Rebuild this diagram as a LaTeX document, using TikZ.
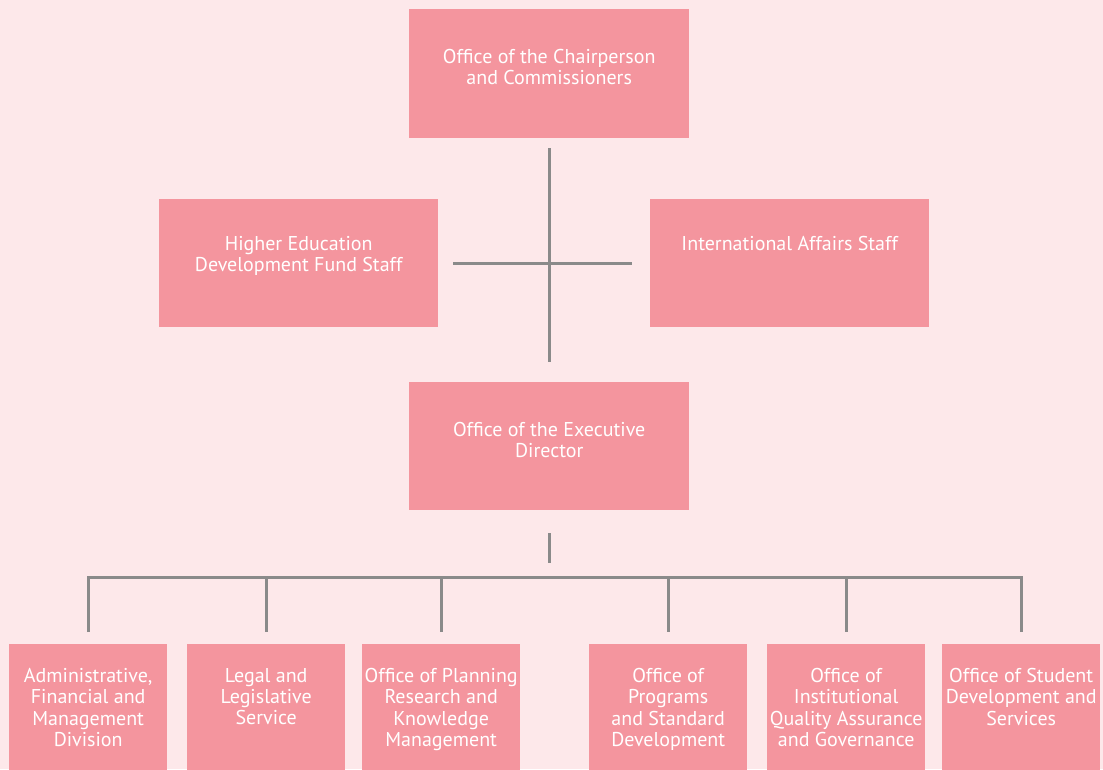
\documentclass[tikz,border=0pt]{standalone}
\usepackage{fontspec}
\setmainfont{PT Sans}
\definecolor{bgpink}{HTML}{FDE8EA}
\definecolor{boxpink}{HTML}{F4959E}
\definecolor{linegray}{HTML}{8A8A8A}
\tikzset{
  box/.style={fill=boxpink, draw=none, inner sep=0pt, anchor=north west},
  lbl/.style={text=white, font=\fontsize{20}{21.3}\selectfont, align=center, inner sep=0pt, anchor=north},
  conn/.style={draw=linegray, line width=3pt},
}
\begin{document}
\begin{tikzpicture}[x=1pt,y=-1pt]
\useasboundingbox (0,0) rectangle (1103,769);
\fill[bgpink] (0,0) rectangle (1103,769);
\begin{scope}
\clip (0,0) rectangle (1103,769);
% top
\node[box, minimum width=280pt, minimum height=129pt] (top) at (409,9) {};
\node[lbl] (topl) at ([yshift=-40pt]top.north) {Office of the Chairperson\\and Commissioners};
% middle row
\node[box, minimum width=279pt, minimum height=128pt] (hedf) at (159,199) {};
\node[lbl] (hedfl) at ([yshift=-37pt]hedf.north) {Higher Education\\Development Fund Staff};
\node[box, minimum width=279pt, minimum height=128pt] (ias) at (650,199) {};
\node[lbl] (iasl) at ([yshift=-37pt]ias.north) {International Affairs Staff};
% exec
\node[box, minimum width=280pt, minimum height=128pt] (exec) at (409,382) {};
\node[lbl] (execl) at ([yshift=-40pt]exec.north) {Office of the Executive\\Director};
% bottom row
\foreach \n/\x/\t in {
  c1/9/{Administrative,\\Financial and\\Management\\Division},
  c2/187/{Legal and\\Legislative\\Service},
  c3/362/{Office of Planning\\Research and\\Knowledge\\Management},
  c4/589/{Office of\\Programs\\and Standard\\Development},
  c5/767/{Office of\\Institutional\\Quality Assurance\\and Governance},
  c6/942/{Office of Student\\Development and\\Services}}{
  \node[box, minimum width=158pt, minimum height=130pt] (\n) at (\x,644) {};
  \node[lbl] (\n l) at ([yshift=-24pt]\n.north) {\t};
}
\end{scope}
% connectors
\draw[conn, shorten <=10pt, shorten >=20pt] (top.south) -- (exec.north);
\draw[conn, shorten <=15pt, shorten >=18pt] (hedf.east) -- (ias.west);
\coordinate (bus) at (549,577);
\draw[conn, shorten <=23pt, shorten >=14pt] (exec.south) -- (exec.south |- bus);
\draw[conn, shorten <=12pt, shorten >=12pt] (c1.north) -- (c1.north |- bus) -- (c6.north |- bus) -- (c6.north);
\foreach \n in {c2,c3,c4,c5}{
  \draw[conn, shorten >=12pt] (\n.north |- bus) -- (\n.north);
}
\end{tikzpicture}
\end{document}
